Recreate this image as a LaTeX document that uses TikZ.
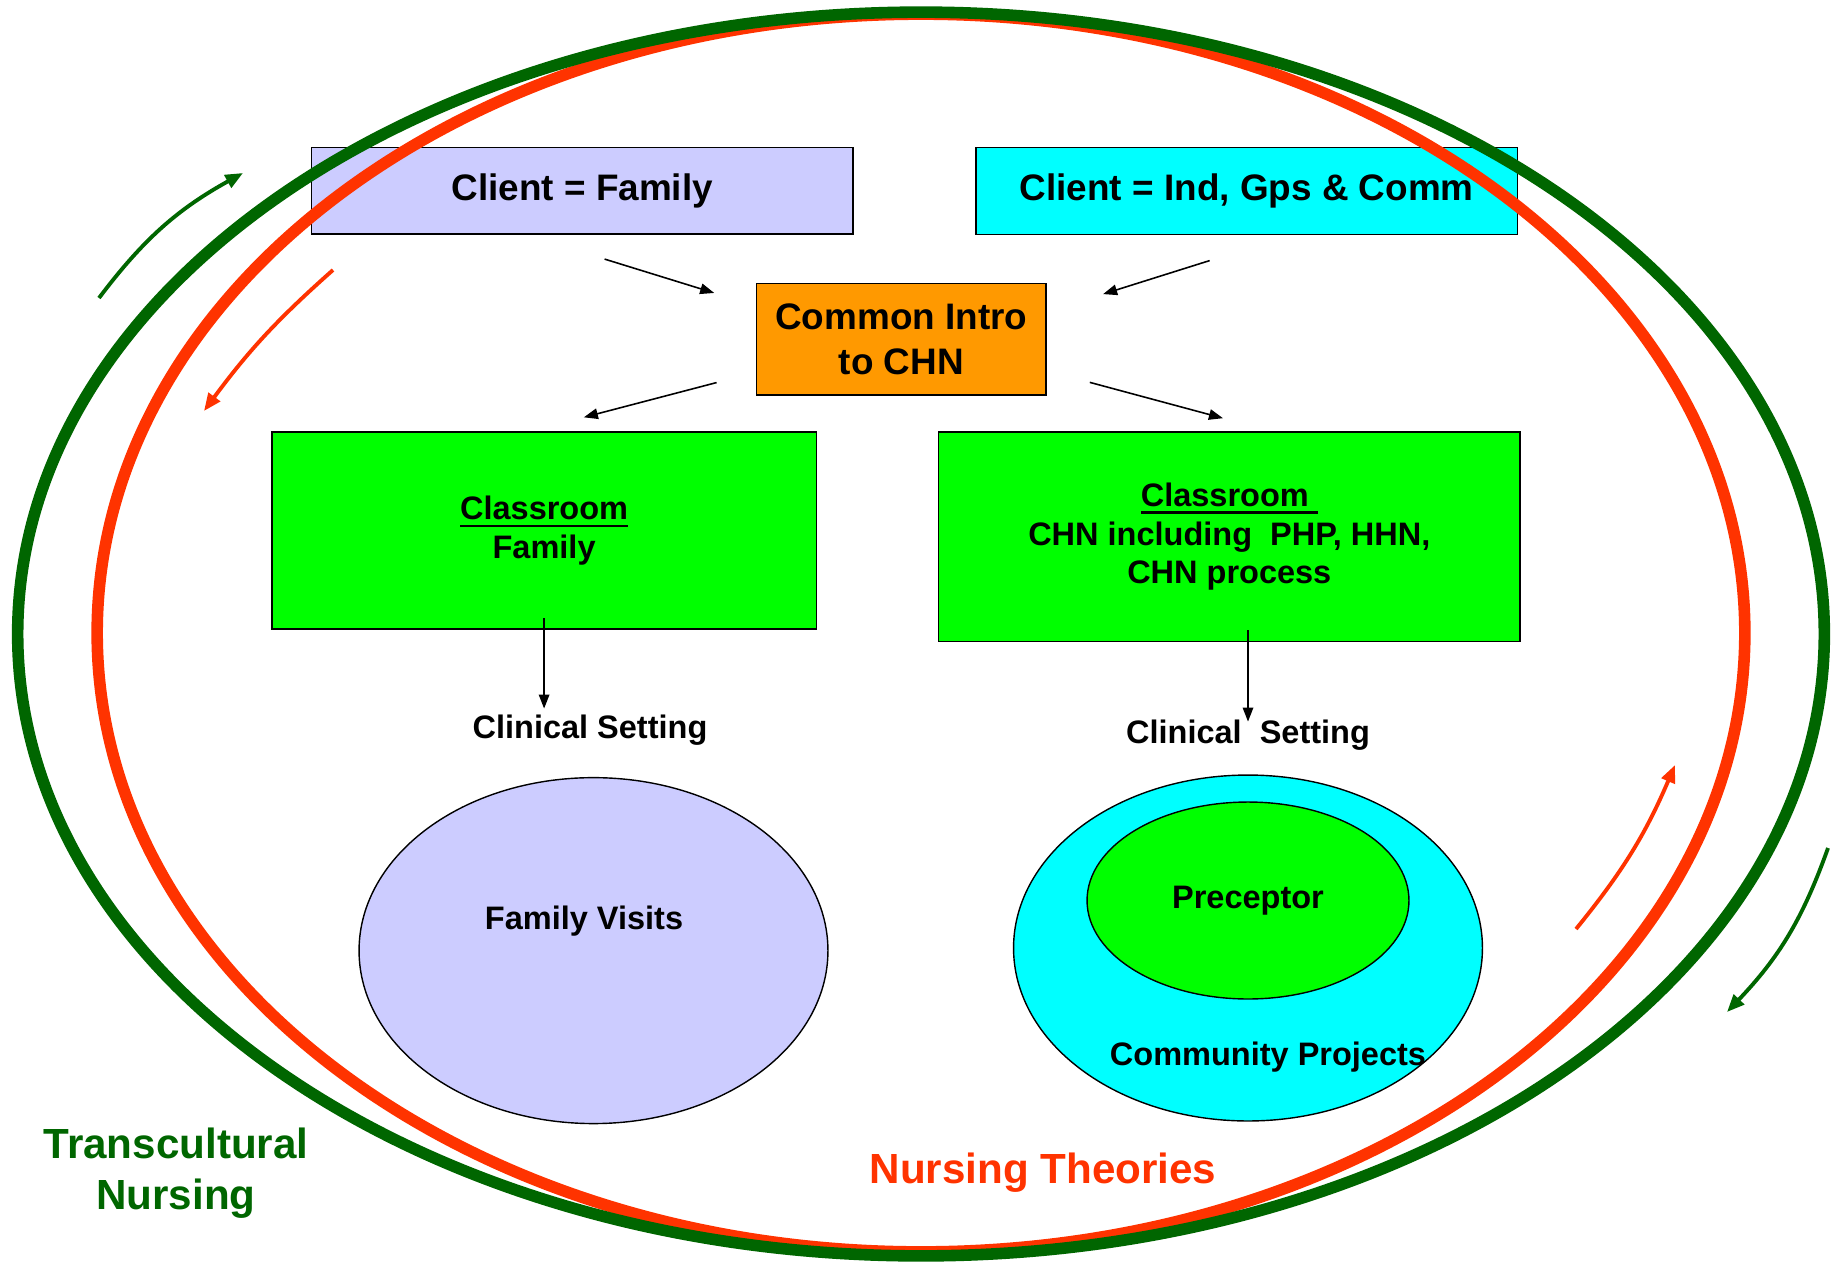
\documentclass[tikz,border=0pt]{standalone}
\usepackage{fontspec}
\setmainfont{Liberation Sans}
\usetikzlibrary{arrows.meta,shapes.geometric}

\definecolor{lavender}{HTML}{CCCCFF}
\definecolor{client cyan}{HTML}{00FFFF}
\definecolor{intro orange}{HTML}{FF9900}
\definecolor{class green}{HTML}{00FF00}
\definecolor{culture green}{HTML}{006600}
\definecolor{theory red}{HTML}{FF3300}

\newcommand{\thickul}[1]{\setbox0\hbox{#1}\rlap{\rule[-4.4pt]{\wd0}{1.6pt}}\box0}

\begin{document}
\begin{tikzpicture}[
		x=0.02cm, y=-0.02cm,
		box/.style={draw, line width=0.9pt, inner sep=0pt, align=center, font=\bfseries\fontsize{21}{26}\selectfont},
		classbox/.style={draw, line width=0.9pt, fill=class green, inner sep=0pt, align=center, font=\bfseries\fontsize{18.5}{22}\selectfont},
		caption/.style={align=center, font=\bfseries\fontsize{18.5}{22}\selectfont},
		blob/.style={ellipse, draw, line width=0.8pt, inner sep=0pt},
		conn/.style={-{Triangle[length=8pt,width=6pt]}, line width=0.9pt},
		swirl/.style={-{Triangle[length=10pt,width=8pt]}, line width=2.2pt},
		ring/.style={line width=6.6pt},
	]
		\fill[white] (0,0) rectangle (1839,1262);
		\useasboundingbox (0,0) rectangle (1839,1262);

		\node [box, fill=lavender, minimum width=10.83cm, minimum height=1.73cm] (client fam) at (582.3,190.7) {Client = Family};
		\node [box, fill=client cyan, minimum width=10.83cm, minimum height=1.74cm] (client ind) at (1246.7,190.8) {Client = Ind, Gps \& Comm};
		\node [box, fill=intro orange, minimum width=5.79cm, minimum height=2.23cm] (intro) at (901.3,339.3) {Common Intro\\to CHN};
		\node [classbox, minimum width=10.89cm, minimum height=3.95cm] (class fam) at (544.1,530.5) {\thickul{Classroom}\\Family};
		\node [classbox, minimum width=11.63cm, minimum height=4.20cm] (class chn) at (1229.3,536.7) {\thickul{Classroom\ }\\CHN including\ \ PHP, HHN,\\CHN process};

		\node [caption] (setting fam) at (590,730) {Clinical Setting};
		\node [caption] (setting chn) at (1248,735) {Clinical\ \ Setting};

		\node [blob, fill=lavender, minimum width=9.38cm, minimum height=6.92cm] (visits) at (593.5,950.6) {};
		\node [caption] (visits text) at (584,921) {Family Visits};
		\node [blob, fill=client cyan, minimum width=9.38cm, minimum height=6.92cm] (projects) at (1248,948) {};
		\node [blob, fill=class green, minimum width=6.44cm, minimum height=3.94cm, font=\bfseries\fontsize{18.5}{22}\selectfont] (preceptor) at (1248,900.5) {Preceptor};
		\node [caption] (projects text) at (1268,1057) {Community Projects};

		\draw[conn, shorten <=1.65cm, shorten >=0.87cm] ([xshift=-1.13cm]client fam.south) -- ([yshift=0.67cm]intro.west);
		\draw[conn, shorten <=1.70cm, shorten >=1.18cm] ([xshift=0.88cm]client ind.south) -- ([yshift=0.55cm]intro.east);
		\draw[conn, shorten <=0.81cm, shorten >=1.08cm] ([yshift=-0.66cm]intro.west) -- ([xshift=-0.25cm]class fam.north);
		\draw[conn, shorten <=0.89cm, shorten >=0.98cm] ([yshift=-0.63cm]intro.east) -- ([xshift=0.82cm]class chn.north);
		\draw[conn] ([yshift=0.24cm]class fam.south) -- (class fam.south |- setting fam.north);
		\draw[conn, shorten >=-0.16cm] ([yshift=0.24cm]class chn.south -| setting chn.north) -- (setting chn.north);

		% the two rings
		\draw[ring, theory red] (921,633) ellipse [x radius=16.48cm, y radius=12.38cm];
		\draw[ring, culture green] (921,634) ellipse [x radius=18.07cm, y radius=12.44cm];

		\draw[swirl, culture green] (99,298) to[bend left=12] (243,173);
		\draw[swirl, theory red] (333,270) to[bend right=6] (204,411);
		\draw[swirl, theory red] (1576,929) to[bend right=8] (1675,765);
		\draw[swirl, culture green] (1828,848) to[bend left=12] (1727,1012);

		\node [align=center, text=culture green, font=\bfseries\fontsize{24}{29}\selectfont] (culture) at (176,1173) {Transcultural\\Nursing};
		\node [text=theory red, font=\bfseries\fontsize{24}{29}\selectfont] (theories) at (1043,1173) {Nursing Theories};
	\end{tikzpicture}
\end{document}
